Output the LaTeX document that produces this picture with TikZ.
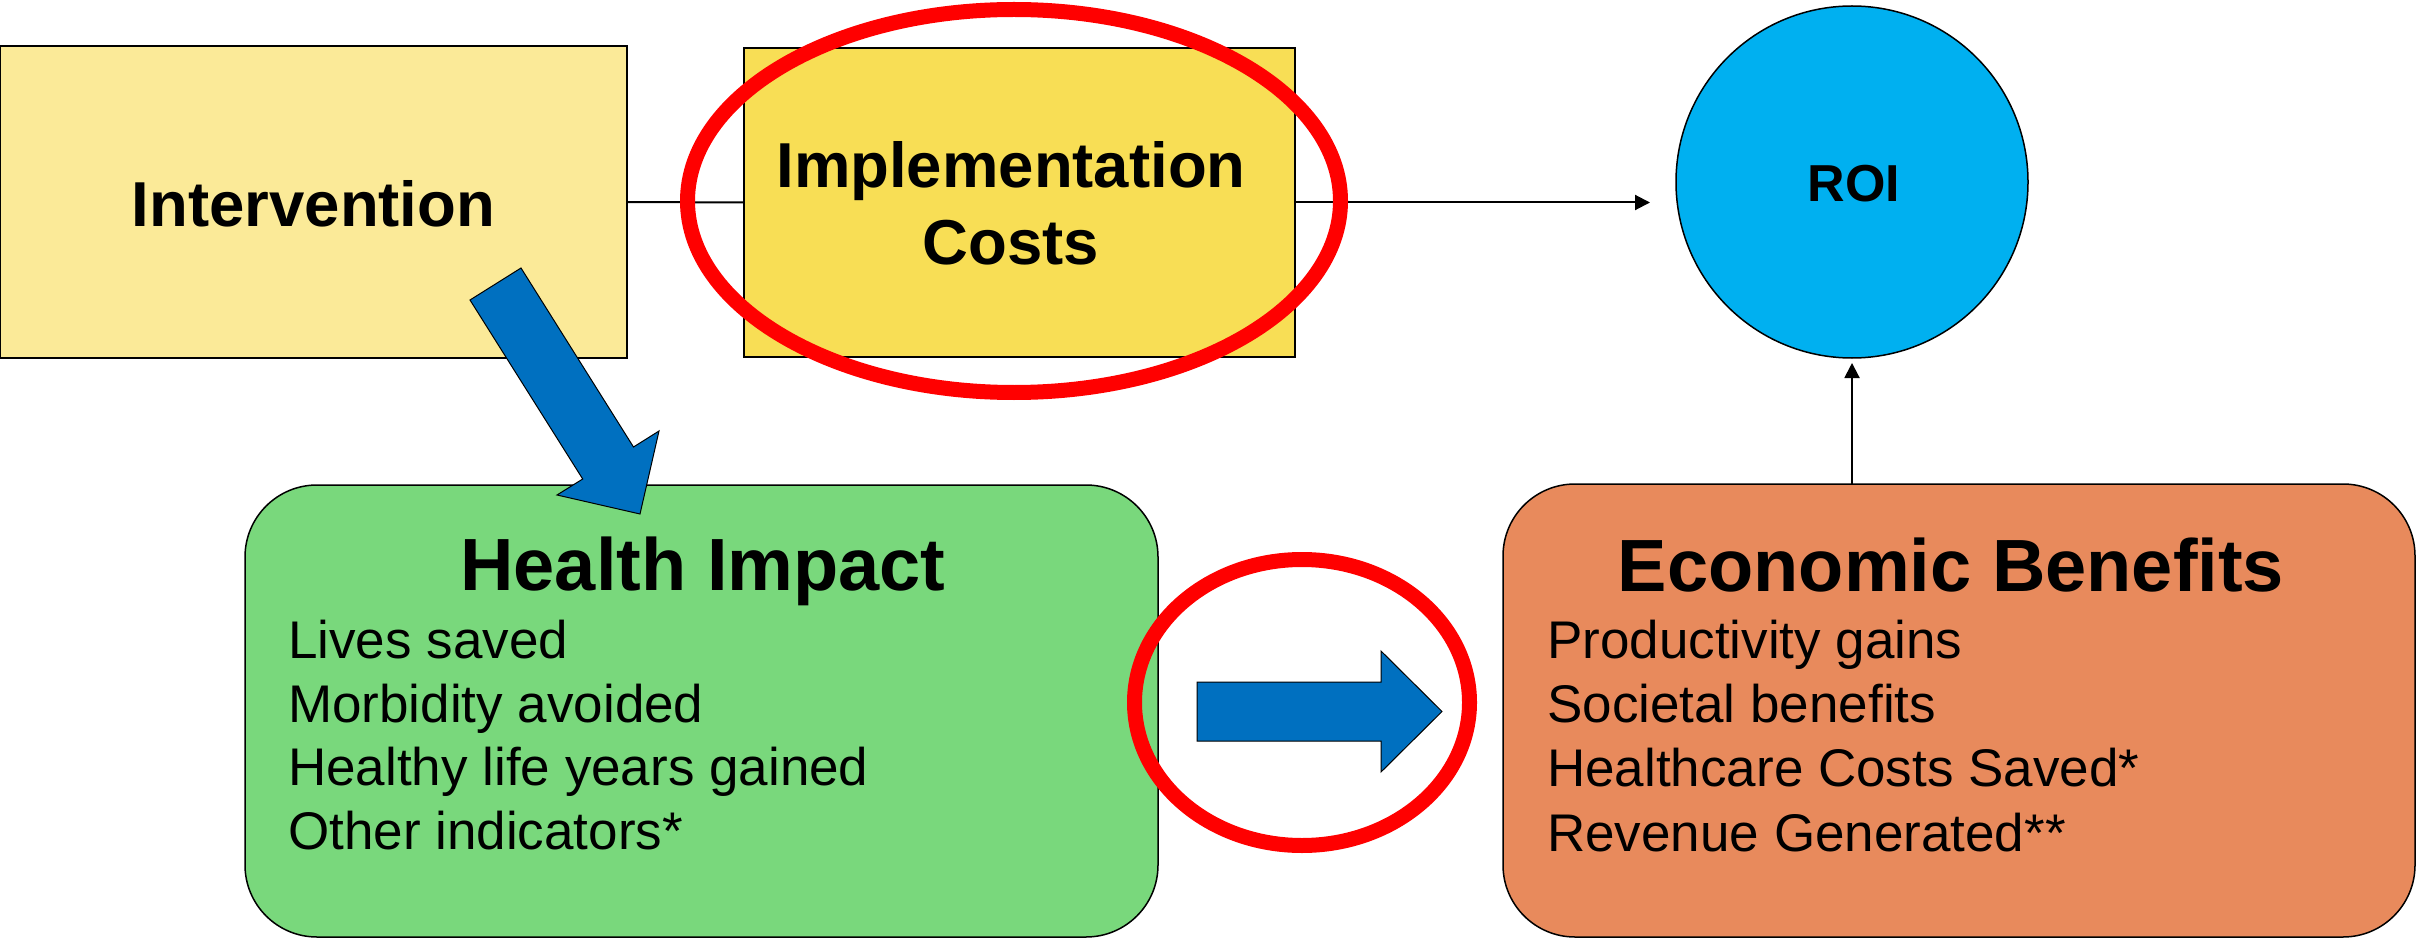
\documentclass[tikz,border=0pt]{standalone}
\usepackage{fontspec}
\setmainfont{Liberation Sans}
\usetikzlibrary{arrows.meta,calc}
\definecolor{intfill}{HTML}{FBEA98}
\definecolor{implfill}{HTML}{F8DE55}
\definecolor{roifill}{HTML}{00B0F0}
\definecolor{healthfill}{HTML}{79D87C}
\definecolor{econfill}{HTML}{E88A5C}
\definecolor{arrowblue}{HTML}{0070C0}
\definecolor{hlred}{HTML}{FF0000}
\begin{document}
\begin{tikzpicture}[x=1pt,y=-1pt,
  box/.style={draw=black, line width=1.5pt, inner sep=0pt, outer sep=0pt},
  rbox/.style={box, rounded corners=72pt},
  bigbold/.style={font=\fontsize{63.5}{76}\selectfont\bfseries},
  titlebold/.style={font=\fontsize{74}{88}\selectfont\bfseries},
  item/.style={anchor=base west, inner sep=0pt, font=\fontsize{53}{64}\selectfont},
  conn/.style={draw=black, line width=2pt},
  arr/.style={conn, -{Triangle[length=15pt,width=15pt]}},
  blockarrow/.style={fill=arrowblue, draw=black, line width=1pt, line join=miter},
  highlight/.style={draw=hlred, line width=15pt}
]
\useasboundingbox (0,0) rectangle (2417,941);
% boxes
\node[box, fill=intfill, minimum width=627pt, minimum height=312pt] (interv) at (313.5,202) {};
\node[box, fill=implfill, minimum width=551pt, minimum height=309pt] (impl) at (1019.5,202.5) {};
\node[box, circle, fill=roifill, minimum size=352pt] (roi) at (1852,182) {};
\node[rbox, fill=healthfill, minimum width=913pt, minimum height=452pt] (health) at (701.5,711) {};
\node[rbox, fill=econfill, minimum width=912pt, minimum height=453pt] (econ) at (1959,710.5) {};
% connectors
\draw[conn] (interv.east) -- (impl.west);
\draw[arr, shorten >=26pt] (impl.east) -- (impl.east -| roi.west);
\draw[arr, shorten >=5pt] (roi.south |- econ.north) -- (roi.south);
% texts
\node[bigbold, anchor=base, inner sep=0pt] (tint) at (313.5,227) {Intervention};
\node[bigbold, anchor=base, inner sep=0pt] (timpl1) at (1011,188) {Implementation};
\node[bigbold, anchor=base, inner sep=0pt] (timpl2) at (1011,265) {Costs};
\node[font=\fontsize{52}{62}\selectfont\bfseries, anchor=base, inner sep=0pt] (troi) at (1854,202) {ROI};
\node[titlebold, anchor=base, inner sep=0pt] (thealth) at (703,590) {Health Impact};
\node[item] (h1) at (288,658) {Lives saved};
\node[item] (h2) at (288,722) {Morbidity avoided};
\node[item] (h3) at (288,785) {Healthy life years gained};
\node[item] (h4) at (288,849) {Other indicators*};
\node[titlebold, anchor=base, inner sep=0pt] (tecon) at (1951,591) {Economic Benefits};
\node[item] (e1) at (1547,658) {Productivity gains};
\node[item] (e2) at (1547,722) {Societal benefits};
\node[item] (e3) at (1547,786) {Healthcare Costs Saved*};
\node[item] (e4) at (1547,851) {Revenue Generated**};
% highlight ellipses
\draw[highlight] (1014,201) ellipse [x radius=326.5pt, y radius=191.5pt];
\draw[highlight] (1302,702.5) ellipse [x radius=167.5pt, y radius=143pt];
% block arrows
\draw[blockarrow] (470,300) -- (521,268) -- (633.5,447) -- (659,431) -- (640,514) -- (557,495) -- (582.7,479) -- cycle;
\draw[blockarrow] (1197,682) -- (1381,682) -- (1381,651) -- (1442,711.5) -- (1381,772) -- (1381,741) -- (1197,741) -- cycle;
\end{tikzpicture}
\end{document}
